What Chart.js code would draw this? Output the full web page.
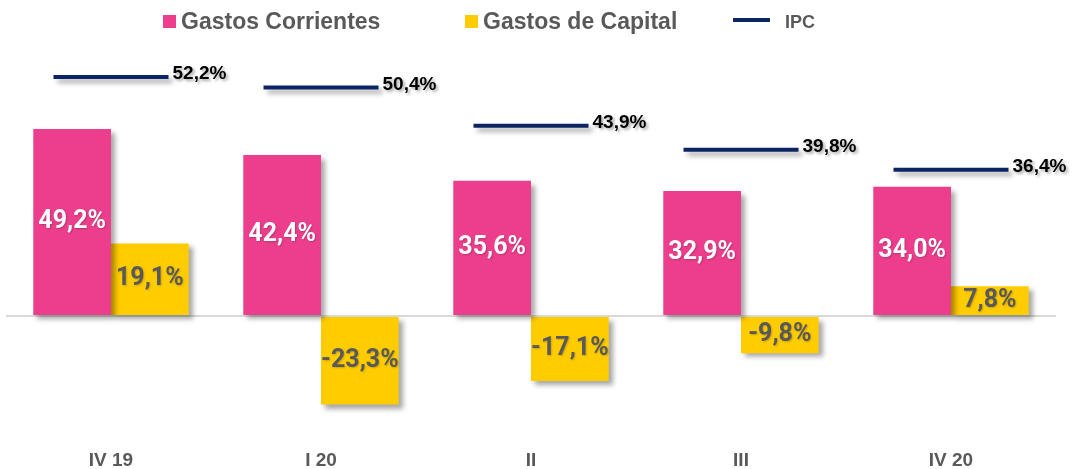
<!DOCTYPE html>
<html>
<head>
<meta charset="utf-8">
<script src="https://cdn.jsdelivr.net/npm/chart.js@4"></script>
<style>
  html, body { margin: 0; padding: 0; background: #fff; }
  #wrap { position: relative; width: 1076px; height: 469px; }
  #chart { position: absolute; left: 0; top: 0; }
  .leg { position: absolute; font-family: 'Liberation Sans', Arial, sans-serif; font-weight: bold; color: #595959; white-space: nowrap; line-height: 1; }
  .sw { position: absolute; width: 13px; height: 13px; }
</style>
</head>
<body>
<div id="wrap">
  <canvas id="chart" width="1076" height="469"></canvas>
  <div class="sw" style="left:163px;top:15px;background:#EC3E8C"></div>
  <div class="leg" style="left:181px;top:10px;font-size:23px">Gastos Corrientes</div>
  <div class="sw" style="left:465px;top:15px;background:#FFCC00"></div>
  <div class="leg" style="left:483px;top:10px;font-size:23px">Gastos de Capital</div>
  <div style="position:absolute;left:733px;top:18px;width:37px;height:4px;background:#0B2463"></div>
  <div class="leg" style="left:785px;top:13px;font-size:18px">IPC</div>
</div>
<script>
// quarters
const categories = ['IV 19', 'I 20', 'II', 'III', 'IV 20'];
// variacion interanual (%)
const gastosCorrientes = [49.2, 42.4, 35.6, 32.9, 34.0];
const gastosCapital    = [19.1, -23.3, -17.1, -9.8, 7.8];
const ipc              = [52.2, 50.4, 43.9, 39.8, 36.4];

const PINK = '#EC3E8C';
const YELLOW = '#FFCC00';
const NAVY = '#0B2463';

const fmt = v => v.toFixed(1).replace('.', ',') + '%';

const shadowPlugin = {
  id: 'shadows',
  beforeDatasetsDraw(chart) {
    const c = chart.ctx;
    c.save();
    c.shadowColor = 'rgba(0,0,0,0.35)';
    c.shadowBlur = 5;
    c.shadowOffsetX = 4;
    c.shadowOffsetY = 4;
  },
  afterDatasetsDraw(chart) {
    chart.ctx.restore();
  }
};

const valueLabels = {
  id: 'valueLabels',
  afterDatasetsDraw(chart) {
    const c = chart.ctx;
    chart.data.datasets.forEach((ds, i) => {
      const meta = chart.getDatasetMeta(i);
      meta.data.forEach((el, j) => {
        const txt = fmt(ds.data[j]);
        c.save();
        c.textBaseline = 'middle';
        if (ds.type === 'line') {
          c.shadowColor = 'rgba(0,0,0,0.35)';
          c.shadowBlur = 3;
          c.shadowOffsetX = 2;
          c.shadowOffsetY = 2;
          c.font = 'bold 19px "Liberation Sans", Arial, sans-serif';
          c.fillStyle = '#000';
          c.textAlign = 'left';
          c.fillText(txt, el.x + ds.pointRadius + 4, el.y - 3);
        } else {
          c.shadowColor = 'rgba(0,0,0,0.2)';
          c.shadowBlur = 2;
          c.shadowOffsetX = 1;
          c.shadowOffsetY = 1;
          c.font = 'bold 25px Roboto, sans-serif';
          c.fillStyle = ds.label === 'Gastos Corrientes' ? '#fff' : '#595959';
          c.textAlign = 'center';
          c.fillText(txt, el.x, (el.y + el.base) / 2);
        }
        c.restore();
      });
    });
  }
};

new Chart(document.getElementById('chart'), {
  data: {
    labels: categories,
    datasets: [
      {
        type: 'line',
        label: 'IPC',
        data: ipc,
        yAxisID: 'y1',
        showLine: false,
        pointStyle: 'line',
        pointRadius: 57.5,
        pointBorderWidth: 4,
        pointBorderColor: NAVY,
        pointBackgroundColor: NAVY,
        clip: false,
        order: 0
      },
      {
        type: 'bar',
        label: 'Gastos Corrientes',
        data: gastosCorrientes,
        backgroundColor: PINK,
        yAxisID: 'y',
        categoryPercentage: 0.74,
        barPercentage: 1,
        order: 1
      },
      {
        type: 'bar',
        label: 'Gastos de Capital',
        data: gastosCapital,
        backgroundColor: YELLOW,
        yAxisID: 'y',
        categoryPercentage: 0.74,
        barPercentage: 1,
        order: 1
      }
    ]
  },
  options: {
    responsive: false,
    animation: false,
    layout: { autoPadding: false, padding: { top: 50, left: 6, right: 20, bottom: 0 } },
    plugins: {
      legend: { display: false },
      tooltip: { enabled: false }
    },
    scales: {
      x: {
        grid: { display: false, drawTicks: false },
        border: { display: false },
        afterFit: axis => { axis.height = 39; },
        ticks: {
          color: '#595959',
          padding: 19,
          font: { family: '"Liberation Sans", Arial, sans-serif', size: 19, weight: 'bold' }
        }
      },
      y: {
        min: -30, max: 70,
        border: { display: false },
        ticks: { display: false },
        afterFit: axis => { axis.width = 0; },
        grid: {
          drawTicks: false,
          lineWidth: 2,
          color: ctx => ctx.tick && ctx.tick.value === 0 ? '#D9D9D9' : 'transparent'
        }
      },
      y1: {
        display: false,
        min: -8, max: 56.8
      }
    }
  },
  plugins: [shadowPlugin, valueLabels]
});
</script>
</body>
</html>
